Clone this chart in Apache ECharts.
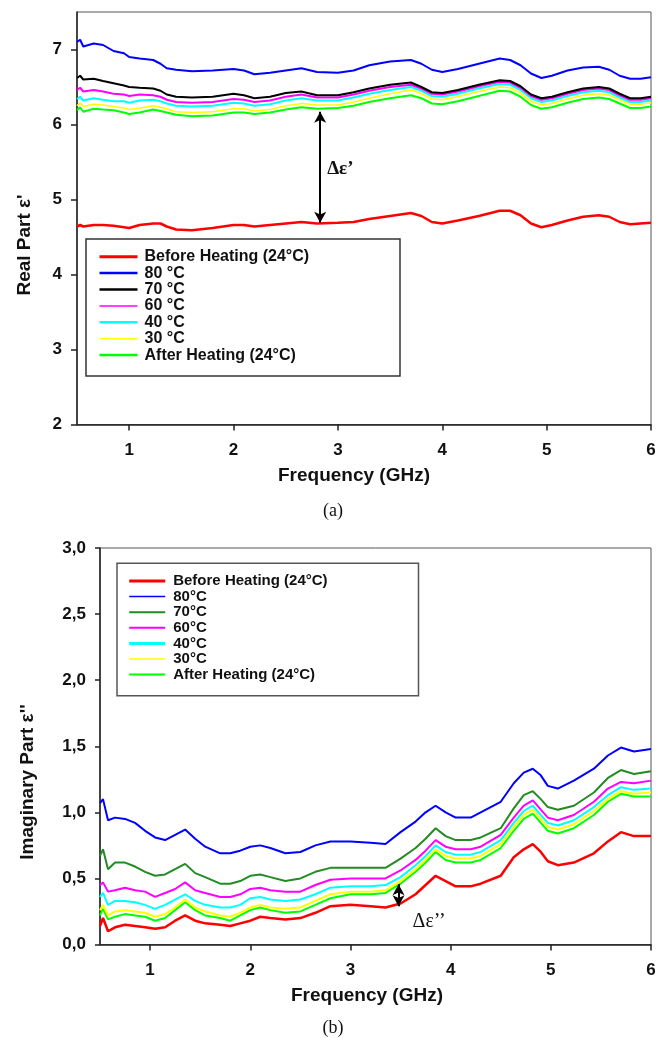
<!DOCTYPE html>
<html>
<head>
<meta charset="utf-8">
<title>Dielectric permittivity vs frequency</title>
<script src="https://cdn.jsdelivr.net/npm/echarts@6/dist/echarts.min.js"></script>
<style>
  html, body { margin: 0; padding: 0; background: #fff; }
  #chart { width: 665px; height: 1038px; }
</style>
</head>
<body>
<div id="chart"></div>
<script>
// ---- (a) real part ε' ----
const FREQ_A = [0.5, 0.53, 0.56, 0.66, 0.75, 0.85, 0.95, 1.0, 1.1, 1.23,
  1.3, 1.36, 1.45, 1.6, 1.8, 2.0, 2.1, 2.2, 2.35, 2.5,
  2.65, 2.8, 3.0, 3.15, 3.3, 3.5, 3.7, 3.8, 3.9, 4.0,
  4.15, 4.35, 4.55, 4.65, 4.75, 4.85, 4.95, 5.05, 5.2, 5.35,
  5.5, 5.6, 5.7, 5.8, 5.9, 6.0];
const REAL_BEFORE = [4.64, 4.66, 4.64, 4.66, 4.66, 4.65, 4.63, 4.62, 4.66, 4.68,
  4.68, 4.64, 4.60, 4.59, 4.62, 4.66, 4.66, 4.64, 4.66, 4.68,
  4.70, 4.68, 4.69, 4.70, 4.74, 4.78, 4.82, 4.78, 4.70, 4.68,
  4.72, 4.78, 4.85, 4.85, 4.79, 4.68, 4.63, 4.66, 4.72, 4.77,
  4.79, 4.77, 4.70, 4.67, 4.68, 4.69];
const REAL_80 = [7.10, 7.13, 7.04, 7.08, 7.06, 6.98, 6.95, 6.90, 6.88, 6.86,
  6.81, 6.75, 6.73, 6.71, 6.72, 6.74, 6.72, 6.67, 6.69, 6.72,
  6.75, 6.70, 6.69, 6.72, 6.79, 6.84, 6.86, 6.81, 6.73, 6.70,
  6.74, 6.81, 6.88, 6.86, 6.79, 6.68, 6.62, 6.65, 6.72, 6.76,
  6.77, 6.73, 6.65, 6.61, 6.61, 6.63];
const REAL_70 = [6.62, 6.65, 6.60, 6.61, 6.58, 6.55, 6.52, 6.50, 6.49, 6.48,
  6.45, 6.40, 6.37, 6.36, 6.37, 6.41, 6.39, 6.35, 6.37, 6.42,
  6.44, 6.39, 6.39, 6.43, 6.48, 6.53, 6.56, 6.50, 6.43, 6.42,
  6.46, 6.53, 6.59, 6.58, 6.51, 6.40, 6.35, 6.37, 6.43, 6.48,
  6.50, 6.48, 6.41, 6.35, 6.35, 6.37];
const REAL_60 = [6.46, 6.49, 6.44, 6.46, 6.44, 6.41, 6.40, 6.38, 6.40, 6.39,
  6.37, 6.33, 6.30, 6.29, 6.30, 6.34, 6.33, 6.30, 6.32, 6.37,
  6.40, 6.36, 6.36, 6.40, 6.45, 6.50, 6.53, 6.48, 6.41, 6.40,
  6.44, 6.51, 6.57, 6.56, 6.49, 6.38, 6.33, 6.35, 6.41, 6.46,
  6.48, 6.46, 6.39, 6.33, 6.33, 6.35];
const REAL_40 = [6.34, 6.37, 6.32, 6.35, 6.33, 6.31, 6.31, 6.29, 6.32, 6.33,
  6.31, 6.28, 6.25, 6.24, 6.25, 6.29, 6.28, 6.25, 6.27, 6.32,
  6.35, 6.32, 6.32, 6.36, 6.41, 6.46, 6.50, 6.45, 6.38, 6.37,
  6.41, 6.48, 6.54, 6.53, 6.46, 6.35, 6.30, 6.32, 6.38, 6.43,
  6.45, 6.43, 6.36, 6.30, 6.30, 6.32];
const REAL_30 = [6.25, 6.29, 6.24, 6.27, 6.26, 6.24, 6.22, 6.20, 6.22, 6.25,
  6.23, 6.21, 6.17, 6.16, 6.17, 6.21, 6.21, 6.18, 6.20, 6.25,
  6.28, 6.26, 6.26, 6.30, 6.35, 6.41, 6.46, 6.41, 6.34, 6.33,
  6.37, 6.44, 6.50, 6.49, 6.42, 6.31, 6.26, 6.28, 6.34, 6.39,
  6.41, 6.39, 6.33, 6.27, 6.27, 6.29];
const REAL_AFTER = [6.19, 6.23, 6.17, 6.21, 6.20, 6.19, 6.16, 6.14, 6.16, 6.20,
  6.18, 6.16, 6.13, 6.11, 6.12, 6.16, 6.16, 6.14, 6.16, 6.20,
  6.23, 6.21, 6.22, 6.25, 6.30, 6.35, 6.39, 6.35, 6.28, 6.27,
  6.31, 6.38, 6.45, 6.44, 6.37, 6.26, 6.21, 6.23, 6.29, 6.34,
  6.36, 6.34, 6.28, 6.22, 6.22, 6.24];

// ---- (b) imaginary part ε'' ----
const FREQ_B = [0.5, 0.53, 0.58, 0.65, 0.75, 0.85, 0.95, 1.05, 1.15, 1.25,
  1.35, 1.45, 1.55, 1.7, 1.8, 1.9, 2.0, 2.1, 2.2, 2.35,
  2.5, 2.65, 2.8, 3.0, 3.2, 3.35, 3.5, 3.65, 3.75, 3.85,
  3.95, 4.05, 4.2, 4.3, 4.5, 4.63, 4.73, 4.82, 4.9, 4.97,
  5.07, 5.23, 5.43, 5.57, 5.7, 5.83, 6.0];
const IMAG_BEFORE = [0.14, 0.20, 0.10, 0.13, 0.15, 0.14, 0.13, 0.12, 0.13, 0.18,
  0.22, 0.18, 0.16, 0.15, 0.14, 0.16, 0.18, 0.21, 0.20, 0.19,
  0.20, 0.24, 0.29, 0.30, 0.29, 0.28, 0.31, 0.38, 0.45, 0.52,
  0.48, 0.44, 0.44, 0.46, 0.52, 0.66, 0.72, 0.76, 0.70, 0.63,
  0.60, 0.62, 0.69, 0.78, 0.85, 0.82, 0.82];
const IMAG_80 = [1.07, 1.10, 0.94, 0.96, 0.95, 0.92, 0.86, 0.81, 0.79, 0.83,
  0.87, 0.80, 0.74, 0.69, 0.69, 0.71, 0.74, 0.75, 0.73, 0.69,
  0.70, 0.75, 0.78, 0.78, 0.77, 0.76, 0.85, 0.93, 1.00, 1.05,
  1.00, 0.96, 0.96, 1.00, 1.08, 1.22, 1.30, 1.33, 1.28, 1.20,
  1.18, 1.24, 1.33, 1.43, 1.49, 1.46, 1.48];
const IMAG_70 = [0.67, 0.72, 0.57, 0.62, 0.62, 0.59, 0.55, 0.52, 0.53, 0.57,
  0.61, 0.54, 0.51, 0.46, 0.46, 0.48, 0.52, 0.53, 0.51, 0.48,
  0.50, 0.55, 0.58, 0.58, 0.58, 0.58, 0.65, 0.73, 0.80, 0.88,
  0.82, 0.79, 0.79, 0.81, 0.88, 1.03, 1.13, 1.16, 1.10, 1.04,
  1.02, 1.05, 1.15, 1.26, 1.32, 1.29, 1.31];
const IMAG_60 = [0.45, 0.47, 0.40, 0.41, 0.43, 0.41, 0.40, 0.36, 0.39, 0.42,
  0.47, 0.41, 0.39, 0.36, 0.36, 0.38, 0.42, 0.43, 0.41, 0.40,
  0.40, 0.45, 0.49, 0.50, 0.50, 0.50, 0.56, 0.64, 0.71, 0.79,
  0.74, 0.72, 0.72, 0.74, 0.83, 0.96, 1.05, 1.09, 1.02, 0.96,
  0.94, 0.98, 1.08, 1.18, 1.23, 1.22, 1.24];
const IMAG_40 = [0.36, 0.39, 0.30, 0.33, 0.33, 0.32, 0.30, 0.27, 0.30, 0.34,
  0.38, 0.33, 0.30, 0.28, 0.28, 0.30, 0.35, 0.36, 0.34, 0.33,
  0.34, 0.38, 0.43, 0.44, 0.44, 0.45, 0.51, 0.60, 0.67, 0.75,
  0.70, 0.68, 0.68, 0.70, 0.79, 0.92, 1.01, 1.05, 0.98, 0.92,
  0.90, 0.94, 1.04, 1.13, 1.19, 1.17, 1.18];
const IMAG_30 = [0.26, 0.30, 0.22, 0.25, 0.26, 0.25, 0.24, 0.21, 0.23, 0.28,
  0.34, 0.28, 0.25, 0.22, 0.21, 0.24, 0.28, 0.30, 0.28, 0.27,
  0.28, 0.33, 0.38, 0.40, 0.40, 0.41, 0.48, 0.57, 0.64, 0.72,
  0.67, 0.65, 0.65, 0.67, 0.76, 0.89, 0.98, 1.02, 0.95, 0.89,
  0.87, 0.91, 1.01, 1.10, 1.16, 1.14, 1.15];
const IMAG_AFTER = [0.22, 0.27, 0.19, 0.21, 0.23, 0.22, 0.21, 0.18, 0.20, 0.26,
  0.32, 0.26, 0.22, 0.20, 0.18, 0.22, 0.26, 0.28, 0.26, 0.24,
  0.25, 0.30, 0.35, 0.38, 0.38, 0.39, 0.46, 0.55, 0.62, 0.70,
  0.64, 0.62, 0.62, 0.64, 0.73, 0.86, 0.95, 0.99, 0.92, 0.86,
  0.84, 0.88, 0.98, 1.08, 1.14, 1.12, 1.12];

// axis ticks
const FREQ_TICKS = [1, 2, 3, 4, 5, 6];
const REAL_TICKS = [2, 3, 4, 5, 6, 7];

// legend names
const NAMES_A = ['Before Heating (24°C)', '80 °C', '70 °C', '60 °C', '40 °C', '30 °C', 'After Heating (24°C)'];
const NAMES_B = ['Before Heating (24°C)', '80°C', '70°C', '60°C', '40°C', '30°C', 'After Heating (24°C)'];

// Δ arrows (frequency, permittivity) end points
const DELTA_A = [[2.83, 6.17], [2.83, 4.69]];
const DELTA_B = [[3.48, 0.455], [3.48, 0.29]];

const SANS = '"Liberation Sans", Arial, sans-serif';
const SERIF = '"Liberation Serif", "Times New Roman", serif';

const chart = echarts.init(document.getElementById('chart'), null, { renderer: 'canvas' });

function pairs(freq, vals) { return freq.map((f, i) => [f, vals[i]]); }

function lineSeries(name, freq, vals, color, width, idx, extra) {
  return Object.assign({
    type: 'line', name: name, xAxisIndex: idx, yAxisIndex: idx,
    data: pairs(freq, vals), symbol: 'none', showSymbol: false,
    lineStyle: { color: color, width: width }, itemStyle: { color: color },
    animation: false, silent: true
  }, extra || {});
}

function deltaMark(ends) {
  return {
    markLine: {
      silent: true, animation: false,
      symbol: ['arrow', 'arrow'], symbolSize: [9, 11],
      lineStyle: { color: '#000', width: 2, type: 'solid' },
      itemStyle: { color: '#000' },
      label: { show: false },
      data: [[{ coord: ends[0] }, { coord: ends[1] }]]
    }
  };
}

function xAxisDef(idx) {
  return {
    type: 'value', gridIndex: idx, min: 0.5, max: 6,
    axisLine: { show: true, onZero: false, lineStyle: { color: '#222', width: 1.5 } },
    axisTick: { show: true, inside: false, length: 6, customValues: FREQ_TICKS, lineStyle: { color: '#222', width: 1.5 } },
    axisLabel: { customValues: FREQ_TICKS, margin: 17, fontSize: 17, fontWeight: 'bold', fontFamily: SANS, color: '#111' },
    splitLine: { show: false }
  };
}

const legendTextA = { fontSize: 16, fontWeight: 'bold', fontFamily: SANS, color: '#111', lineHeight: 16, padding: [0, 0, 0, 2] };
const legendTextB = { fontSize: 15, fontWeight: 'bold', fontFamily: SANS, color: '#111', lineHeight: 15, padding: [0, 0, 0, 3] };
const WIDTHS_A = [3, 2.5, 2.5, 1.5, 2.5, 1.5, 2.5];
const WIDTHS_B = [3, 1.5, 2, 2, 3, 1.5, 2];

// legend entries: a plain line sample, no marker
function legendItems(names, widths) {
  return names.map((n, i) => ({
    name: n,
    lineStyle: { width: widths[i] },
    itemStyle: { opacity: 0, borderWidth: 0 }
  }));
}

chart.setOption({
  backgroundColor: '#fff',
  animation: false,
  grid: [
    { left: 77, top: 12, width: 574, height: 412.5, show: true, borderColor: '#555', borderWidth: 1, backgroundColor: 'transparent' },
    { left: 100, top: 548, width: 551, height: 396.5, show: true, borderColor: '#555', borderWidth: 1, backgroundColor: 'transparent' }
  ],
  xAxis: [xAxisDef(0), xAxisDef(1)],
  yAxis: [
    {
      type: 'value', gridIndex: 0, min: 2, max: 7.5,
      axisLine: { show: true, onZero: false, lineStyle: { color: '#222', width: 1.5 } },
      axisTick: { show: true, inside: false, length: 6, customValues: REAL_TICKS, lineStyle: { color: '#222', width: 1.5 } },
      axisLabel: { customValues: REAL_TICKS, margin: 15, fontSize: 17, fontWeight: 'bold', fontFamily: SANS, color: '#111' },
      splitLine: { show: false }
    },
    {
      type: 'value', gridIndex: 1, min: 0, max: 3, interval: 0.5,
      axisLine: { show: true, onZero: false, lineStyle: { color: '#222', width: 1.5 } },
      axisTick: { show: true, inside: false, length: 5, lineStyle: { color: '#222', width: 1.5 } },
      axisLabel: {
        margin: 14, fontSize: 17, fontWeight: 'bold', fontFamily: SANS, color: '#111',
        formatter: v => v.toFixed(1).replace('.', ',')
      },
      splitLine: { show: false }
    }
  ],
  legend: [
    {
      orient: 'vertical', left: 98, top: 248.7, padding: 0, itemGap: 0.4,
      itemWidth: 38, itemHeight: 14, selectedMode: false, z: 6,
      itemStyle: { opacity: 0, borderWidth: 0 },
      textStyle: legendTextA,
      data: legendItems(NAMES_A, WIDTHS_A)
    },
    {
      orient: 'vertical', left: 127.7, top: 573.5, padding: 0, itemGap: 0.6,
      itemWidth: 36, itemHeight: 14, selectedMode: false, z: 6,
      itemStyle: { opacity: 0, borderWidth: 0 },
      textStyle: legendTextB,
      data: legendItems(NAMES_B, WIDTHS_B)
    }
  ],
  series: [
    lineSeries(NAMES_A[6], FREQ_A, REAL_AFTER, '#00ff00', 2, 0),
    lineSeries(NAMES_A[5], FREQ_A, REAL_30, '#ffff00', 1.6, 0),
    lineSeries(NAMES_A[4], FREQ_A, REAL_40, '#00ffff', 2, 0),
    lineSeries(NAMES_A[3], FREQ_A, REAL_60, '#ff00ff', 2, 0),
    lineSeries(NAMES_A[2], FREQ_A, REAL_70, '#000000', 2, 0),
    lineSeries(NAMES_A[1], FREQ_A, REAL_80, '#0000ff', 2, 0),
    lineSeries(NAMES_A[0], FREQ_A, REAL_BEFORE, '#ff0000', 2.5, 0, deltaMark(DELTA_A)),

    lineSeries(NAMES_B[6], FREQ_B, IMAG_AFTER, '#00ff00', 2, 1),
    lineSeries(NAMES_B[5], FREQ_B, IMAG_30, '#ffff00', 2, 1),
    lineSeries(NAMES_B[4], FREQ_B, IMAG_40, '#00ffff', 2, 1),
    lineSeries(NAMES_B[3], FREQ_B, IMAG_60, '#ff00ff', 2, 1),
    lineSeries(NAMES_B[2], FREQ_B, IMAG_70, '#228b22', 2, 1),
    lineSeries(NAMES_B[1], FREQ_B, IMAG_80, '#0000ff', 2, 1),
    lineSeries(NAMES_B[0], FREQ_B, IMAG_BEFORE, '#ff0000', 2.5, 1, deltaMark(DELTA_B))
  ]
});

// Text annotations and legend frames
function label(id, x, y, text, font, rotation, align) {
  return {
    type: 'text', id: id, x: x, y: y, rotation: rotation || 0, z: 10, silent: true,
    style: {
      text: text, font: font, fill: '#111',
      align: align || 'center', textAlign: align || 'center',
      verticalAlign: 'middle', textVerticalAlign: 'middle'
    }
  };
}

const pA0 = chart.convertToPixel({ gridIndex: 0 }, DELTA_A[0]);
const pA1 = chart.convertToPixel({ gridIndex: 0 }, DELTA_A[1]);
const pB1 = chart.convertToPixel({ gridIndex: 1 }, DELTA_B[1]);

chart.setOption({
  graphic: [
    { type: 'rect', id: 'legendBoxA', z: 3, silent: true,
      shape: { x: 86, y: 239, width: 314, height: 137 },
      style: { fill: '#fff', stroke: '#333', lineWidth: 1.5 } },
    { type: 'rect', id: 'legendBoxB', z: 3, silent: true,
      shape: { x: 117, y: 563.3, width: 301.5, height: 132.4 },
      style: { fill: '#fff', stroke: '#555', lineWidth: 1.5 } },
    label('xTitleA', 354, 476, 'Frequency (GHz)', 'bold 19px ' + SANS),
    label('yTitleA', 24.5, 245, 'Real Part ε\'', 'bold 19px ' + SANS, Math.PI / 2),
    label('capA', 333, 511, '(a)', '18px ' + SERIF),
    label('xTitleB', 367, 996, 'Frequency (GHz)', 'bold 19px ' + SANS),
    label('yTitleB', 28, 782, 'Imaginary Part ε\'\'', 'bold 19px ' + SANS, Math.PI / 2),
    label('capB', 333, 1028, '(b)', '18px ' + SERIF),
    label('deltaA', pA0[0] + 7, (pA0[1] + pA1[1]) / 2 + 2, 'Δε’', 'bold 19px ' + SERIF, 0, 'left'),
    label('deltaB', pB1[0] + 14, pB1[1] + 16, 'Δε’’', '20px ' + SERIF, 0, 'left')
  ]
});
</script>
</body>
</html>
